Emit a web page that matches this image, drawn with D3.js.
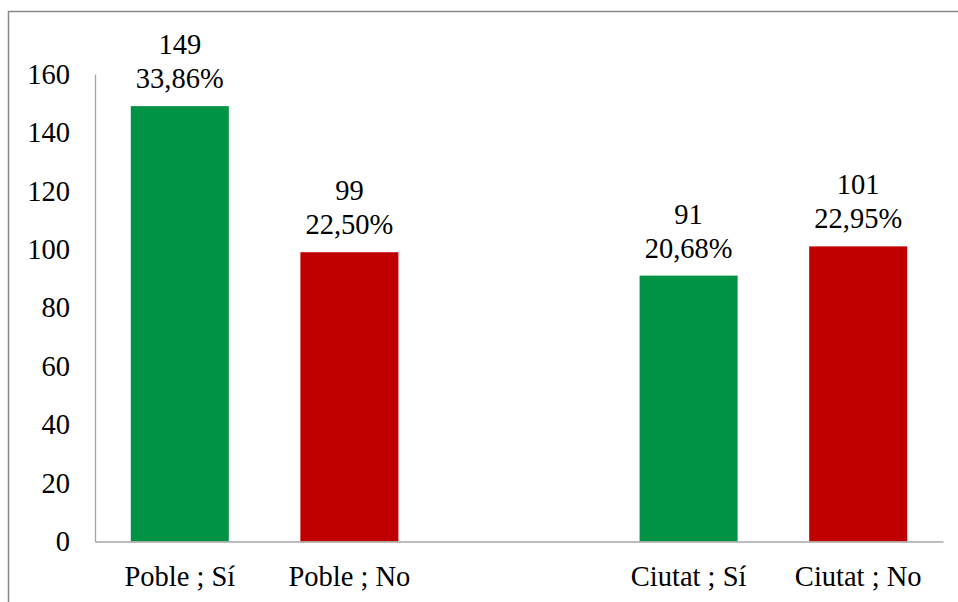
<!DOCTYPE html>
<html>
<head>
<meta charset="utf-8">
<script src="https://cdn.jsdelivr.net/npm/d3@7"></script>
<style>
  body { margin: 0; background: #fff; }
  svg text { font-family: "Times New Roman", "Liberation Serif", "DejaVu Serif", serif; fill: #000; }
</style>
</head>
<body>
<svg width="958" height="602"></svg>
<script>
// chart data
var categories = ["Poble ; Sí", "Poble ; No", "Ciutat ; Sí", "Ciutat ; No"];
var values = [149, 99, 91, 101];
var percents = ["33,86%", "22,50%", "20,68%", "22,95%"];
var barColors = ["#009245", "#C00000", "#009245", "#C00000"];
var yTicks = [0, 20, 40, 60, 80, 100, 120, 140, 160];

// slot list with an empty spacer between the two groups
var slots = [categories[0], categories[1], "__gap", categories[2], categories[3]];

var serif = "'Times New Roman', 'Liberation Serif', 'DejaVu Serif', serif";
var svg = d3.select("svg");

// outer frame
svg.append("rect")
  .attr("x", 8.5).attr("y", 11.5)
  .attr("width", 1000).attr("height", 700)
  .style("fill", "none")
  .style("stroke", "#888")
  .style("stroke-width", 1.5);

var x = d3.scaleBand().domain(slots).range([95, 943])
  .paddingInner(0.422).paddingOuter(0.211);
var y = d3.scaleLinear().domain([0, 160]).range([541.5, 74]);

var data = categories.map(function(c, i) {
  return {cat: c, value: values[i], pct: percents[i], color: barColors[i]};
});

// bars
svg.selectAll("rect.bar")
  .data(data)
  .enter()
  .append("rect")
  .attr("class", "bar")
  .attr("x", function(d) { return x(d.cat); })
  .attr("width", x.bandwidth())
  .attr("y", function(d) { return y(d.value); })
  .attr("height", function(d) { return y(0) - y(d.value); })
  .style("fill", function(d) { return d.color; });

// y axis
var yAxis = d3.axisLeft(y).tickValues(yTicks).tickSize(0).tickPadding(25);
var gY = svg.append("g").attr("transform", "translate(95,0)").call(yAxis);
gY.attr("font-family", null);
gY.select(".domain").style("stroke", "#a6a6a6").style("stroke-width", 1.3);
gY.selectAll(".tick text")
  .style("font-size", "28.5px")
  .style("font-family", serif);

// x axis
var xAxis = d3.axisBottom(x).tickValues(categories).tickSize(0).tickPadding(24);
var gX = svg.append("g").attr("transform", "translate(0," + y(0) + ")").call(xAxis);
gX.attr("font-family", null);
gX.select(".domain").style("stroke", "#a6a6a6").style("stroke-width", 1.3);
gX.selectAll(".tick text")
  .style("font-size", "28.5px")
  .style("font-family", serif);

// value labels
var labels = svg.selectAll("text.lbl")
  .data(data)
  .enter()
  .append("text")
  .attr("class", "lbl")
  .attr("text-anchor", "middle")
  .style("font-size", "28.5px")
  .style("font-family", serif);

labels.append("tspan")
  .attr("x", function(d) { return x(d.cat) + x.bandwidth() / 2; })
  .attr("y", function(d) { return y(d.value) - 52; })
  .text(function(d) { return d.value; });

labels.append("tspan")
  .attr("x", function(d) { return x(d.cat) + x.bandwidth() / 2; })
  .attr("y", function(d) { return y(d.value) - 18; })
  .text(function(d) { return d.pct; });
</script>
</body>
</html>
